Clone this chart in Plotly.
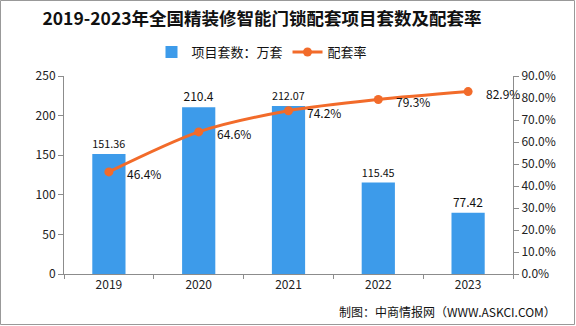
import plotly.graph_objects as go

# 年份与数据
years = ["2019", "2020", "2021", "2022", "2023"]
project_sets = [151.36, 210.4, 212.07, 115.45, 77.42]   # 项目套数：万套
match_rate = [46.4, 64.6, 74.2, 79.3, 82.9]             # 配套率（%）

left_ticks = [0, 50, 100, 150, 200, 250]
right_ticks = [0, 10, 20, 30, 40, 50, 60, 70, 80, 90]

W, H = 576, 326
L, R, T, B = 64, 63, 76, 52
pw, ph = W - L - R, H - T - B

FONT = "Noto Sans CJK SC"
BAR_COLOR = "#3D9BEA"
LINE_COLOR = "#F26B2A"
AXIS_COLOR = "#8C8C8C"

fig = go.Figure()

fig.add_trace(go.Bar(
    x=years, y=project_sets, name="项目套数：万套",
    marker=dict(color=BAR_COLOR, line=dict(width=0)),
    width=0.37,
    text=[f"{v:g}" for v in project_sets],
    textposition="outside", cliponaxis=False,
    textfont=dict(family=FONT, size=12, color="#111"),
))

fig.add_trace(go.Scatter(
    x=years, y=match_rate, name="配套率", yaxis="y2",
    mode="lines+markers",
    line=dict(color=LINE_COLOR, width=3, shape="spline", smoothing=0.8),
    marker=dict(color=LINE_COLOR, size=9),
    cliponaxis=False,
))

# 配套率数据标签（位于数据点右侧），x 用类别序号定位
for i, v in enumerate(match_rate):
    fig.add_annotation(
        x=i, y=v, xref="x", yref="y2", text=f"{v:.1f}%",
        showarrow=False, xanchor="left", yanchor="middle",
        xshift=16, yshift=-2,
        font=dict(family=FONT, size=12, color="#111"),
    )

fig.update_layout(
    width=W, height=H,
    margin=dict(l=L, r=R, t=T, b=B),
    paper_bgcolor="white", plot_bgcolor="white",
    font=dict(family=FONT, size=12, color="#222"),
    title=dict(
        text="<b>2019-2023年全国精装修智能门锁配套项目套数及配套率</b>",
        xref="container", x=262 / W, xanchor="center", y=1 - 19 / H, yanchor="middle",
        font=dict(family=FONT, size=17.5, color="#111"),
    ),
    showlegend=True,
    legend=dict(
        orientation="h", x=(262 - L) / pw, xanchor="center", y=1 + 24 / ph, yanchor="middle",
        font=dict(family=FONT, size=13, color="#111"),
        itemwidth=30, traceorder="normal",
        bgcolor="rgba(0,0,0,0)",
    ),
    bargap=0.63,
    xaxis=dict(
        type="category", categoryorder="array", categoryarray=years,
        range=[-0.5, len(years) - 0.5],
        showline=True, linecolor=AXIS_COLOR, linewidth=1,
        ticks="outside", tickson="boundaries", ticklen=4, tickcolor=AXIS_COLOR,
        showgrid=False, tickfont=dict(family=FONT, size=12, color="#222"),
    ),
    yaxis=dict(
        range=[0, 250], tickvals=left_ticks, showgrid=False, zeroline=False,
        showline=True, linecolor=AXIS_COLOR, linewidth=1,
        ticks="outside", ticklen=5, tickcolor=AXIS_COLOR,
        tickfont=dict(family=FONT, size=12, color="#222"),
    ),
    yaxis2=dict(
        range=[0, 90], tickvals=right_ticks,
        ticktext=[f"{v:.1f}%" for v in right_ticks],
        overlaying="y", side="right", showgrid=False, zeroline=False,
        showline=True, linecolor=AXIS_COLOR, linewidth=1,
        ticks="outside", ticklen=5, tickcolor=AXIS_COLOR,
        tickfont=dict(family=FONT, size=12, color="#222"),
    ),
)

# 外边框
fig.add_shape(
    type="rect", xref="paper", yref="paper",
    x0=-(L - 0.5) / pw, x1=1 + (R - 1.5) / pw,
    y0=-(B - 1.5) / ph, y1=1 + (T - 0.5) / ph,
    line=dict(color="#999", width=1), fillcolor="rgba(0,0,0,0)", layer="below",
)

# 来源说明
fig.add_annotation(
    text="制图：中商情报网（WWW.ASKCI.COM）",
    xref="paper", yref="paper", x=1 + (558 - 513) / pw, y=-(B - 15) / ph,
    xanchor="right", yanchor="middle", showarrow=False,
    font=dict(family=FONT, size=12, color="#111"),
)

fig.write_html("out.html")
